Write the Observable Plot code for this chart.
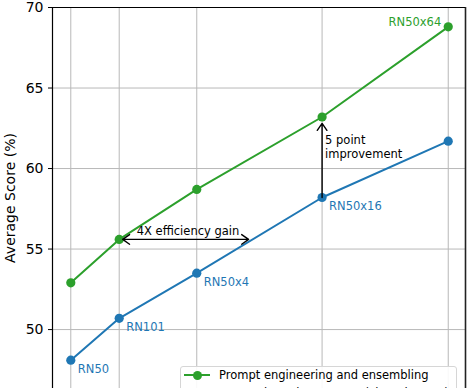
<!DOCTYPE html>
<html>
<head>
<meta charset="utf-8">
<script src="https://cdn.jsdelivr.net/npm/d3@7"></script>
<script src="https://cdn.jsdelivr.net/npm/@observablehq/plot@0.6"></script>
<style>
  html, body { margin: 0; padding: 0; background: #fff; overflow: hidden; }
  #wrap { position: relative; width: 471px; height: 388px; overflow: hidden; font-family: "DejaVu Sans", sans-serif; }
  #legend { position: absolute; left: 180px; top: 366px; width: 277px; height: 44px; border: 1px solid #d6d6d6; border-radius: 3px; background: rgba(255,255,255,0.9); box-sizing: border-box; }
  .entry { position: absolute; left: 0; height: 16px; display: flex; align-items: center; font-size: 11.5px; color: #000; white-space: nowrap; }
  .swatch { position: relative; width: 26px; height: 16px; margin-left: 3px; margin-right: 9px; }
  .swatch .ln { position: absolute; left: 0; right: 0; top: 7px; height: 2px; }
  .swatch .dt { position: absolute; left: 8.5px; top: 3.5px; width: 9px; height: 9px; border-radius: 50%; }
</style>
</head>
<body>
<div id="wrap"></div>
<script>
const models = ["RN50", "RN101", "RN50x4", "RN50x16", "RN50x64"];
const gflops = [6.1, 9.9, 21.5, 75.3, 265.9];
const promptScores = [52.9, 55.6, 58.7, 63.2, 68.8];
const contextlessScores = [48.1, 50.7, 53.5, 58.2, 61.7];
const yTicks = [50, 55, 60, 65, 70];
const seriesNames = ["Prompt engineering and ensembling", "Contextless class names (Li et al. 2017)"];
const seriesColors = ["#2ca02c", "#1f77b4"];

// annotation anchors (data units)
const effLabel = ["4X efficiency gain"];
const effArrowX = [10.25, 36.1];
const effArrowY = [55.6];
const impLabel = ["5 point\nimprovement"];
const impArrowX = [75.3];
const impArrowY = [58.2, 62.8];

const xDomain = [5.08, 316];
const yDomain = [46.34, 70];

const prompt = models.map((m, i) => ({model: m, gflops: gflops[i], score: promptScores[i]}));
const contextless = models.map((m, i) => ({model: m, gflops: gflops[i], score: contextlessScores[i]}));

const effMid = Math.sqrt(effArrowX[0] * effArrowX[1]);

const chart = Plot.plot({
  width: 471,
  height: 388,
  marginLeft: 52,
  marginTop: 7,
  marginRight: 6,
  marginBottom: 0,
  style: {fontFamily: "DejaVu Sans, sans-serif", background: "#fff", overflow: "hidden"},
  x: {type: "log", domain: xDomain, axis: null},
  y: {domain: yDomain, axis: null},
  marks: [
    Plot.ruleX(gflops, {stroke: "#b8b8b8", strokeWidth: 1}),
    Plot.ruleY(yTicks, {stroke: "#b8b8b8", strokeWidth: 1}),
    Plot.ruleX([xDomain[0]], {stroke: "#000", strokeWidth: 1.2}),
    Plot.ruleX([xDomain[1]], {stroke: "#222", strokeWidth: 1.6}),
    Plot.ruleY([yDomain[1]], {stroke: "#000", strokeWidth: 1.2}),
    Plot.axisY({
      ticks: yTicks, tickSize: 4, tickPadding: 5, fontSize: 14,
      label: "Average Score (%)", labelAnchor: "center", labelArrow: "none", labelOffset: 47
    }),
    Plot.line(prompt, {x: "gflops", y: "score", stroke: seriesColors[0], strokeWidth: 2}),
    Plot.line(contextless, {x: "gflops", y: "score", stroke: seriesColors[1], strokeWidth: 2}),
    Plot.dot(prompt, {x: "gflops", y: "score", fill: seriesColors[0], r: 4.6}),
    Plot.dot(contextless, {x: "gflops", y: "score", fill: seriesColors[1], r: 4.6}),
    Plot.text(contextless.slice(0, 4), {x: "gflops", y: "score", text: "model", fill: seriesColors[1], textAnchor: "start", dx: 7, dy: 9, fontSize: 11.5}),
    Plot.text(prompt.slice(4), {x: "gflops", y: "score", text: "model", fill: seriesColors[0], textAnchor: "end", dx: -7, dy: -5, fontSize: 11.5}),
    Plot.arrow([{x1: effMid, x2: effArrowX[0], y: effArrowY[0]}, {x1: effMid, x2: effArrowX[1], y: effArrowY[0]}],
      {x1: "x1", x2: "x2", y1: "y", y2: "y", stroke: "#000", strokeWidth: 1.4, headLength: 9, headAngle: 70}),
    Plot.text(effLabel, {x: [19.7], y: effArrowY, text: d => d, dy: -8, fontSize: 11.5, fill: "#000"}),
    Plot.arrow([{x: impArrowX[0], y1: impArrowY[0], y2: impArrowY[1]}],
      {x1: "x", x2: "x", y1: "y1", y2: "y2", stroke: "#000", strokeWidth: 1.4, headLength: 9, headAngle: 70}),
    Plot.text(impLabel, {x: impArrowX, y: [61.37], text: d => d, textAnchor: "start", dx: 3, fontSize: 11.5, lineHeight: 1.2, fill: "#000"})
  ]
});

const wrap = document.getElementById("wrap");
wrap.appendChild(chart);

const legend = document.createElement("div");
legend.id = "legend";
seriesNames.forEach((name, i) => {
  const e = document.createElement("div");
  e.className = "entry";
  e.style.top = (0 + i * 18) + "px";
  e.innerHTML = `<div class="swatch"><div class="ln" style="background:${seriesColors[i]}"></div><div class="dt" style="background:${seriesColors[i]}"></div></div><span>${name}</span>`;
  legend.appendChild(e);
});
wrap.appendChild(legend);
</script>
</body>
</html>
